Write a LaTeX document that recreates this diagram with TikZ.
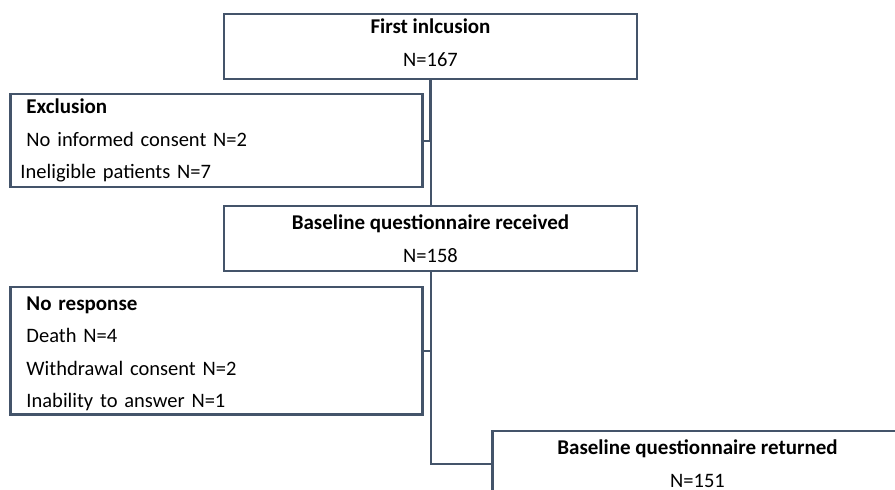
\documentclass[tikz,border=0pt]{standalone}
\usepackage{fontspec}
\setmainfont{Carlito}
\usetikzlibrary{positioning}
\definecolor{flowline}{HTML}{44546A}
\newcommand{\boxtitle}[1]{{\fontsize{21}{32.5}\selectfont\bfseries #1}}

\begin{document}
\begin{tikzpicture}[
    x=1pt, y=-1pt,
    node distance=15pt,
    every node/.style={font=\fontsize{20.5}{32.5}\selectfont},
    stagebox/.style={rectangle, draw=flowline, line width=2.4pt, outer sep=0pt, minimum width=413pt, minimum height=65pt, align=center},
    sidebox/.style={rectangle, draw=flowline, line width=2.4pt, outer sep=0pt, minimum width=412pt, text width=380pt, inner xsep=16pt, align=left},
    link/.style={draw=flowline, line width=2pt}
]
\useasboundingbox (0,0) rectangle (895,490);
\clip (0,0) rectangle (895,490);

\node[stagebox] (first) at (430.5,46.5) {\boxtitle{First inlcusion}\\N=167\rule[-8pt]{0pt}{0pt}};
\node[stagebox, below=127pt of first] (received) {\boxtitle{Baseline questionnaire received}\\N=158};
\node[stagebox, minimum width=410pt, below right=160pt and 62pt of received.south] (returned) {\boxtitle{Baseline questionnaire returned}\\N=151};

% Excluded patients
\node[sidebox, minimum height=93pt, below left=15pt and 8pt of first.south] (excl) {\boxtitle{Exclusion}\\No informed consent N=2\\\hspace*{-6pt}Ineligible patients N=7};
\node[sidebox, minimum height=125pt, below left=16pt and 8pt of received.south] (noresp) {\rule{0pt}{20pt}\boxtitle{No response}\\Death N=4\\Withdrawal consent N=2\\Inability to answer N=1};

\coordinate (exclJoin) at (excl.east -| first.south);
\draw[link, line width=3pt] (first.south) -- (exclJoin);
\draw[link] (exclJoin) -- (received.north);
\draw[link] (excl.east) -- (exclJoin);
\draw[link] (received.south) |- (returned.west);
\draw[link] (noresp.east) -- (noresp.east -| received.south);

\end{tikzpicture}
\end{document}
